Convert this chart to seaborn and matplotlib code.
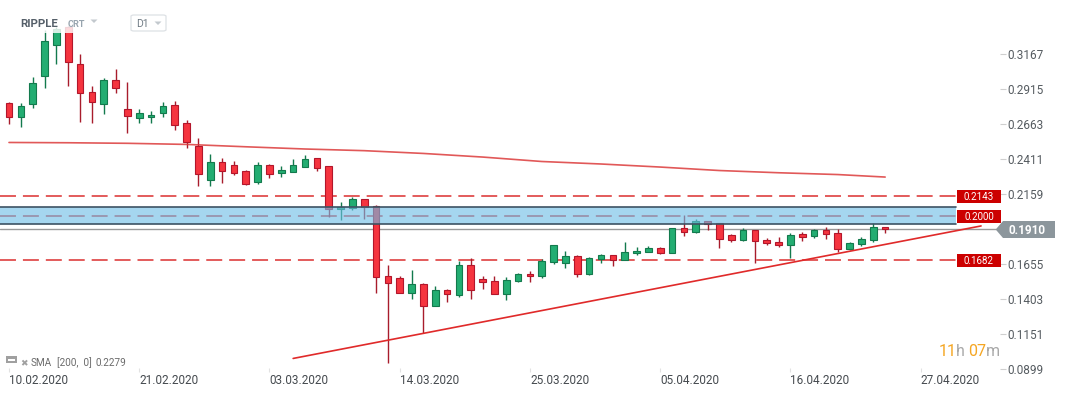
import numpy as np
import pandas as pd
import matplotlib
matplotlib.use("Agg")
import matplotlib.pyplot as plt
import matplotlib.transforms as mtransforms
from matplotlib.patches import Rectangle, Polygon, FancyBboxPatch
import seaborn as sns

# ---------------- data ----------------
start_date = "2020-02-10"
opens = [0.2814, 0.2711, 0.2805, 0.3011, 0.3230, 0.3364, 0.3095, 0.2893, 0.2805, 0.2980,
         0.2771, 0.2704, 0.2711, 0.2740, 0.2798, 0.2668, 0.2508, 0.2262, 0.2387, 0.2366,
         0.2322, 0.2248, 0.2366, 0.2312, 0.2320, 0.2356, 0.2416, 0.2358, 0.2049, 0.2056,
         0.2121, 0.2073, 0.1566, 0.1552, 0.1444, 0.1509, 0.1350, 0.1466, 0.1434, 0.1646,
         0.1545, 0.1530, 0.1437, 0.1530, 0.1581, 0.1566, 0.1667, 0.1660, 0.1710, 0.1581,
         0.1689, 0.1718, 0.1682, 0.1732, 0.1739, 0.1768, 0.1732, 0.1912, 0.1883, 0.1962,
         0.1948, 0.1862, 0.1826, 0.1898, 0.1826, 0.1811, 0.1790, 0.1869, 0.1854, 0.1898,
         0.1876, 0.1761, 0.1797, 0.1826, 0.1919]
highs = [0.2824, 0.2814, 0.3001, 0.3340, 0.3361, 0.3369, 0.3167, 0.2937, 0.2994, 0.3059,
         0.2965, 0.2769, 0.2757, 0.2821, 0.2831, 0.2692, 0.2561, 0.2447, 0.2418, 0.2394,
         0.2330, 0.2387, 0.2375, 0.2358, 0.2409, 0.2438, 0.2416, 0.2358, 0.2099, 0.2135,
         0.2121, 0.2080, 0.1646, 0.1566, 0.1612, 0.1516, 0.1494, 0.1473, 0.1677, 0.1696,
         0.1566, 0.1566, 0.1559, 0.1588, 0.1602, 0.1689, 0.1790, 0.1746, 0.1718, 0.1703,
         0.1725, 0.1718, 0.1811, 0.1775, 0.1782, 0.1775, 0.1912, 0.2006, 0.1977, 0.1962,
         0.1948, 0.1869, 0.1912, 0.1898, 0.1840, 0.1848, 0.1876, 0.1883, 0.1905, 0.1919,
         0.1905, 0.1811, 0.1848, 0.1948, 0.1919]
lows = [0.2661, 0.2644, 0.2780, 0.2920, 0.3093, 0.2939, 0.2680, 0.2672, 0.2737, 0.2888,
        0.2600, 0.2668, 0.2668, 0.2716, 0.2622, 0.2492, 0.2219, 0.2219, 0.2240, 0.2298,
        0.2226, 0.2233, 0.2276, 0.2284, 0.2320, 0.2356, 0.2327, 0.1996, 0.1974, 0.2042,
        0.1981, 0.1448, 0.0944, 0.1444, 0.1405, 0.1156, 0.1350, 0.1379, 0.1420, 0.1405,
        0.1473, 0.1437, 0.1398, 0.1523, 0.1523, 0.1552, 0.1653, 0.1624, 0.1559, 0.1574,
        0.1660, 0.1638, 0.1682, 0.1718, 0.1739, 0.1725, 0.1732, 0.1854, 0.1876, 0.1898,
        0.1768, 0.1811, 0.1818, 0.1660, 0.1790, 0.1775, 0.1696, 0.1818, 0.1840, 0.1833,
        0.1739, 0.1754, 0.1782, 0.1811, 0.1876]
closes = [0.2711, 0.2790, 0.2956, 0.3258, 0.3345, 0.3112, 0.2884, 0.2819, 0.2980, 0.2920,
          0.2718, 0.2740, 0.2728, 0.2790, 0.2658, 0.2530, 0.2301, 0.2387, 0.2327, 0.2312,
          0.2233, 0.2366, 0.2305, 0.2330, 0.2366, 0.2409, 0.2348, 0.2049, 0.2058, 0.2121,
          0.2063, 0.1559, 0.1516, 0.1444, 0.1509, 0.1350, 0.1466, 0.1437, 0.1646, 0.1466,
          0.1523, 0.1437, 0.1538, 0.1581, 0.1566, 0.1674, 0.1790, 0.1710, 0.1581, 0.1696,
          0.1718, 0.1682, 0.1739, 0.1746, 0.1768, 0.1732, 0.1912, 0.1883, 0.1962, 0.1943,
          0.1833, 0.1826, 0.1898, 0.1818, 0.1804, 0.1790, 0.1862, 0.1848, 0.1898, 0.1869,
          0.1761, 0.1804, 0.1833, 0.1919, 0.1910]

sma_days = [0, 5, 10, 15, 20, 25, 30, 35, 40, 45, 50, 55, 60, 65, 70, 74]
sma_vals = [0.2530, 0.2528, 0.2524, 0.2516, 0.2499, 0.2483, 0.2471, 0.2451, 0.2425,
            0.2393, 0.2375, 0.2353, 0.2328, 0.2312, 0.2299, 0.2281]
sma_label = "0.2279"

trend_days = [24.0, 82.1]
trend_vals = [0.0975, 0.1929]

levels = [0.2143, 0.2000, 0.1682]
level_labels = ["0.2143", "0.2000", "0.1682"]
zone_low, zone_high = 0.1943, 0.2063
last_price = 0.1910

ytick_vals = [0.0899, 0.1151, 0.1403, 0.1655, 0.2159, 0.2411, 0.2663, 0.2915, 0.3167]
xtick_days = [0, 11, 22, 33, 44, 55, 66, 77]
xtick_labels = ["10.02.2020", "21.02.2020", "03.03.2020", "14.03.2020",
                "25.03.2020", "05.04.2020", "16.04.2020", "27.04.2020"]

# ---------------- style ----------------
sns.set_theme(style="white")
plt.rcParams["font.family"] = ["Roboto", "DejaVu Sans"]
plt.rcParams["lines.scale_dashes"] = False

W, H = 1067, 395
fig = plt.figure(figsize=(W / 100, H / 100), dpi=100)
fig.patch.set_facecolor("white")
AX_R, AX_B = 1000, 372
ax = fig.add_axes([0, (H - AX_B) / H, AX_R / W, AX_B / H])
ax.set_facecolor("white")
for s in ax.spines.values():
    s.set_visible(False)

PX_PER_DAY = 11.84
X0 = 9
ax.set_xlim(-X0 / PX_PER_DAY, (AX_R - X0) / PX_PER_DAY)
PX_PRICE = 0.00072
ax.set_ylim(0.2159 - (AX_B - 194) * PX_PRICE, 0.2159 + 194 * PX_PRICE)

def fx(x):
    return x / W

def fy(y):
    return 1 - y / H

df = pd.DataFrame({"date": pd.date_range(start_date, periods=len(opens), freq="D"),
                   "open": opens, "high": highs, "low": lows, "close": closes})
df["day"] = (df["date"] - df["date"].iloc[0]).dt.days
up = df["close"] >= df["open"]

G_FILL, G_EDGE = "#23ad72", "#137a4d"
R_FILL, R_EDGE = "#f5343f", "#b3162b"

wick_col = np.where(up, G_EDGE, "#a81c2c")
ax.vlines(df["day"], df["low"], df["high"], colors=wick_col, lw=1.0, zorder=2)
body_bot = np.minimum(df["open"], df["close"])
body_h = np.maximum((df["close"] - df["open"]).abs(), 0.0014)
ax.bar(df["day"], body_h, bottom=body_bot, width=0.56,
       color=np.where(up, G_FILL, R_FILL), edgecolor=np.where(up, G_EDGE, R_EDGE),
       linewidth=0.8, zorder=3)

# SMA and trend line
sns.lineplot(x=sma_days, y=sma_vals, ax=ax, color="#dc3b3b", lw=1.2, alpha=0.85, zorder=2)
sns.lineplot(x=trend_days, y=trend_vals, ax=ax, color="#e02a2a", lw=1.2, zorder=4)

blend = mtransforms.blended_transform_factory(ax.transAxes, ax.transData)

# dashed levels
for lv in levels:
    ax.axhline(lv, xmin=0, xmax=0.956, color="#de4040", lw=1.2,
               linestyle=(0, (11.5, 5.0)), zorder=1.5)

# last price line
ax.axhline(last_price, xmin=0, xmax=0.996, color="#9a9a9a", lw=1.0, zorder=1.6)

# resistance zone (drawn over candles)
ax.add_patch(Rectangle((0.0, zone_low), 0.956, zone_high - zone_low, transform=blend,
                       facecolor="#6ebee6", alpha=0.62, edgecolor="none", zorder=5))
for yv in (zone_low, zone_high):
    ax.plot([0.0, 0.956], [yv, yv], transform=blend, color="#3d5363", lw=1.2, zorder=5.5)

# level labels (red boxes)
box_h = 13 * PX_PRICE
for lv, lab in zip(levels, level_labels):
    ax.add_patch(Rectangle((0.957, lv - box_h / 2), 0.044, box_h, transform=blend,
                           facecolor="#cc0000", edgecolor="none", zorder=6, clip_on=False))
    ax.text(0.979, lv, lab, transform=blend, ha="center", va="center_baseline",
            color="white", fontsize=7, zorder=7, clip_on=False)

# y axis ticks on right
ax.yaxis.tick_right()
ax.set_yticks(ytick_vals)
ax.set_yticklabels([f"{v:.4f}" for v in ytick_vals])
ax.tick_params(axis="y", which="major", direction="out", length=4.3, width=0.8,
               color="#cfcfcf", labelcolor="#555b60", labelsize=8.5, pad=1.2, right=True, left=False)

# x ticks
ax.set_xticks(xtick_days)
ax.set_xticklabels(xtick_labels)
for t in ax.get_xticklabels():
    t.set_ha("left")
ax.tick_params(axis="x", which="major", direction="in", length=3, width=0.8,
               color="#e2e2e2", labelcolor="#454a4f", labelsize=8.5, pad=1.5, bottom=True)
ax.grid(False)

# last price arrow box
poly_px = [(995.7, 229.5), (1003, 221), (1055, 221), (1055, 238), (1003, 238)]
fig.patches.append(Polygon([(fx(x), fy(y)) for x, y in poly_px], closed=True,
                           transform=fig.transFigure, facecolor="#8c969c",
                           edgecolor="none", zorder=10))
fig.text(fx(1027), fy(229.5), f"{last_price:.4f}", ha="center", va="center_baseline",
         color="white", fontsize=8.5, fontweight="bold", zorder=11)

# title overlay
fig.patches.append(Rectangle((fx(14), fy(33)), (104 - 14) / W, (33 - 8) / H,
                             transform=fig.transFigure, facecolor="white", alpha=0.82,
                             edgecolor="none", zorder=8))
fig.text(fx(20), fy(27.3), "RIPPLE", ha="left", va="baseline", fontsize=8.2,
         fontweight="bold", color="#555f69", zorder=9)
fig.text(fx(68), fy(27.3), "CRT", ha="left", va="baseline", fontsize=6.6,
         fontweight="bold", color="#97a4ae", zorder=9)
fig.patches.append(Polygon([(fx(90.5), fy(19.5)), (fx(97.5), fy(19.5)), (fx(94), fy(23))],
                           closed=True, transform=fig.transFigure, facecolor="#c3c9ce",
                           edgecolor="none", zorder=9))
fig.patches.append(FancyBboxPatch((fx(131), fy(31)), 35 / W, 16 / H,
                                  boxstyle="round,pad=0,rounding_size=0.003",
                                  transform=fig.transFigure, facecolor="white",
                                  edgecolor="#dde1e5", lw=0.9, zorder=9))
fig.text(fx(136), fy(27.0), "D1", ha="left", va="baseline", fontsize=7.5,
         color="#6f7a83", zorder=10)
fig.patches.append(Polygon([(fx(154.5), fy(21.5)), (fx(161.5), fy(21.5)), (fx(158), fy(25))],
                           closed=True, transform=fig.transFigure, facecolor="#c3c9ce",
                           edgecolor="none", zorder=10))

# SMA legend bottom-left
fig.patches.append(Rectangle((fx(6), fy(363)), 11 / W, 7 / H, transform=fig.transFigure,
                             facecolor="#a0a0a0", edgecolor="none", zorder=9))
fig.patches.append(Rectangle((fx(8), fy(360.5)), 7 / W, 1.2 / H, transform=fig.transFigure,
                             facecolor="white", edgecolor="none", zorder=9.5))
fig.text(fx(20.5), fy(366), "\u2716", ha="left", va="baseline", fontsize=6.5,
         color="#a0a0a0", family=["DejaVu Sans"], zorder=9)
fig.text(fx(31), fy(366), "SMA", ha="left", va="baseline", fontsize=7.2, color="#6b6b6b", zorder=9)
fig.text(fx(57), fy(366), "[200,  0]", ha="left", va="baseline", fontsize=7.2, color="#6b6b6b", zorder=9)
fig.text(fx(96), fy(366), sma_label, ha="left", va="baseline", fontsize=7.2, color="#6b6b6b", zorder=9)

# countdown "11h 07m"
for xp, s, c in [(939, "11", "#f5a623"), (955.5, "h", "#a8a8a8"),
                 (968, "07", "#f5a623"), (985.5, "m", "#a8a8a8")]:
    fig.text(fx(xp), fy(355.5), s, ha="left", va="baseline", fontsize=11.5,
             color=c, zorder=9)

fig.savefig("out.png", dpi=100, facecolor="white")
